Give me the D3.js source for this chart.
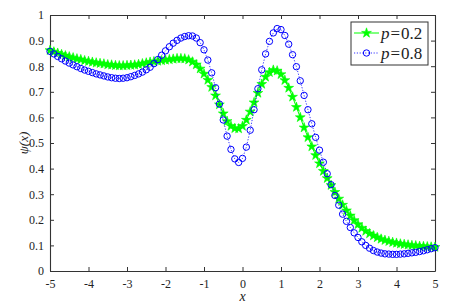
<!DOCTYPE html>
<html>
<head>
<meta charset="utf-8">
<script src="https://cdn.jsdelivr.net/npm/d3@7"></script>
<style>
  body { margin: 0; background: #fff; }
</style>
</head>
<body>
<div id="chart"></div>
<script>
// x grid shared by both series
var xs = [-5.0,-4.9,-4.8,-4.7,-4.6,-4.5,-4.4,-4.3,-4.2,-4.1,-4.0,-3.9,-3.8,-3.7,-3.6,-3.5,-3.4,-3.3,-3.2,-3.1,
  -3.0,-2.9,-2.8,-2.7,-2.6,-2.5,-2.4,-2.3,-2.2,-2.1,-2.0,-1.9,-1.8,-1.7,-1.6,-1.5,-1.4,-1.3,-1.2,-1.1,
  -1.0,-0.9,-0.8,-0.7,-0.6,-0.5,-0.4,-0.3,-0.2,-0.1,0.0,0.1,0.2,0.3,0.4,0.5,0.6,0.7,0.8,0.9,
  1.0,1.1,1.2,1.3,1.4,1.5,1.6,1.7,1.8,1.9,2.0,2.1,2.2,2.3,2.4,2.5,2.6,2.7,2.8,2.9,
  3.0,3.1,3.2,3.3,3.4,3.5,3.6,3.7,3.8,3.9,4.0,4.1,4.2,4.3,4.4,4.5,4.6,4.7,4.8,4.9,5.0];

// p = 0.2 (green stars)
var psiP02 = [0.862,0.856,0.851,0.846,0.841,0.837,0.833,0.829,0.826,0.822,
  0.819,0.816,0.813,0.811,0.809,0.806,0.805,0.803,0.802,0.802,
  0.803,0.804,0.805,0.807,0.810,0.813,0.816,0.818,0.820,0.822,
  0.824,0.826,0.828,0.830,0.830,0.829,0.825,0.817,0.806,0.790,
  0.770,0.746,0.718,0.685,0.650,0.615,0.585,0.566,0.557,0.556,
  0.566,0.590,0.622,0.658,0.695,0.730,0.758,0.776,0.785,0.782,
  0.768,0.745,0.715,0.680,0.640,0.600,0.560,0.522,0.486,0.452,
  0.420,0.390,0.362,0.335,0.308,0.282,0.258,0.236,0.216,0.198,
  0.182,0.168,0.156,0.146,0.138,0.131,0.125,0.120,0.116,0.112,
  0.109,0.106,0.104,0.102,0.100,0.099,0.097,0.096,0.095,0.094,0.093];

// p = 0.8 (blue circles)
var psiP08 = [0.858,0.848,0.838,0.829,0.820,0.812,0.805,0.798,0.791,0.785,
  0.780,0.775,0.770,0.766,0.762,0.758,0.755,0.753,0.752,0.753,
  0.755,0.759,0.764,0.770,0.777,0.786,0.796,0.810,0.826,0.843,
  0.860,0.876,0.890,0.901,0.910,0.916,0.919,0.918,0.910,0.892,
  0.864,0.824,0.774,0.716,0.652,0.590,0.527,0.475,0.438,0.424,
  0.440,0.484,0.550,0.630,0.712,0.786,0.848,0.897,0.930,0.947,
  0.943,0.920,0.886,0.845,0.798,0.743,0.686,0.630,0.575,0.522,
  0.472,0.425,0.380,0.337,0.295,0.257,0.222,0.194,0.170,0.149,
  0.131,0.114,0.100,0.089,0.080,0.074,0.070,0.067,0.066,0.065,
  0.065,0.066,0.067,0.069,0.071,0.073,0.076,0.079,0.083,0.087,0.091];

var xTicks = [-5,-4,-3,-2,-1,0,1,2,3,4,5];
var yTicks = [0,0.1,0.2,0.3,0.4,0.5,0.6,0.7,0.8,0.9,1];
var seriesNames = ["0.2", "0.8"];

var serif = "'Liberation Serif', 'Times New Roman', 'DejaVu Serif', serif";

var W = 472, H = 307;
var margin = {top: 15, right: 37, bottom: 36, left: 50},
    width = W - margin.left - margin.right,
    height = H - margin.top - margin.bottom;

var svg = d3.select("#chart").append("svg")
    .attr("width", W)
    .attr("height", H);

var g = svg.append("g")
    .attr("transform", "translate(" + margin.left + "," + margin.top + ")");

var x = d3.scaleLinear().domain([-5, 5]).range([0, width]);
var y = d3.scaleLinear().domain([0, 1]).range([height, 0]);

// axes: ticks pointing inward on all four sides
var axisColor = "#333";
function styleAxis(sel) {
    sel.attr("font-family", null);
    sel.select(".domain").attr("stroke", axisColor).attr("stroke-width", 1.1);
    sel.selectAll(".tick line").attr("stroke", axisColor);
    sel.selectAll(".tick text")
        .style("font-family", serif)
        .style("font-size", "12px")
        .attr("fill", "#222");
}

var xFmt = function(d) { return d < 0 ? "-" + Math.abs(d) : d; };

g.append("g")
    .attr("transform", "translate(0," + height + ")")
    .call(d3.axisBottom(x).tickValues(xTicks).tickSize(-4).tickSizeOuter(0).tickPadding(8).tickFormat(xFmt))
    .call(styleAxis);

g.append("g")
    .call(d3.axisTop(x).tickValues(xTicks).tickSize(-4).tickSizeOuter(0).tickFormat(""))
    .call(styleAxis);

g.append("g")
    .call(d3.axisLeft(y).tickValues(yTicks).tickSize(-4).tickSizeOuter(0).tickPadding(6)
        .tickFormat(function(d) { return d === 0 ? "0" : d === 1 ? "1" : d3.format(".1f")(d); }))
    .call(styleAxis);

g.append("g")
    .attr("transform", "translate(" + width + ",0)")
    .call(d3.axisRight(y).tickValues(yTicks).tickSize(-4).tickSizeOuter(0).tickFormat(""))
    .call(styleAxis);

// axis labels
g.append("text")
    .attr("x", x(0))
    .attr("y", height + 30)
    .attr("text-anchor", "middle")
    .style("font-family", serif)
    .style("font-size", "14px")
    .style("font-style", "italic")
    .attr("fill", "#222")
    .text("x");

g.append("text")
    .attr("transform", "translate(" + (-27) + "," + (y(0.5)) + ") rotate(-90)")
    .attr("text-anchor", "middle")
    .attr("dy", "0.35em")
    .style("font-family", serif)
    .style("font-size", "13px")
    .style("font-style", "italic")
    .attr("fill", "#222")
    .text("ψ(x)");

var data02 = xs.map(function(d, i) { return {x: d, v: psiP02[i]}; });
var data08 = xs.map(function(d, i) { return {x: d, v: psiP08[i]}; });

var line = d3.line()
    .x(function(d) { return x(d.x); })
    .y(function(d) { return y(d.v); });

var green = "#00ff00", blue = "#0000ff";
var star = d3.symbol().type(d3.symbolStar).size(30);

// p = 0.2 line + stars
g.append("path")
    .datum(data02)
    .attr("d", line)
    .attr("fill", "none")
    .attr("stroke", green)
    .attr("stroke-width", 1);

g.selectAll(".star")
    .data(data02)
    .enter().append("path")
    .attr("class", "star")
    .attr("d", star)
    .attr("transform", function(d) { return "translate(" + x(d.x) + "," + y(d.v) + ")"; })
    .attr("fill", green)
    .attr("stroke", green)
    .attr("stroke-width", 0.6);

// p = 0.8 dotted line + open circles
g.append("path")
    .datum(data08)
    .attr("d", line)
    .attr("fill", "none")
    .attr("stroke", blue)
    .attr("stroke-width", 0.8)
    .attr("stroke-dasharray", "1.2,1.6");

g.selectAll(".circ")
    .data(data08)
    .enter().append("circle")
    .attr("class", "circ")
    .attr("cx", function(d) { return x(d.x); })
    .attr("cy", function(d) { return y(d.v); })
    .attr("r", 3.2)
    .attr("fill", "none")
    .attr("stroke", blue)
    .attr("stroke-width", 1);

// legend
var lg = svg.append("g").attr("transform", "translate(351,22)");
lg.append("rect")
    .attr("width", 77)
    .attr("height", 43)
    .attr("fill", "#fff")
    .attr("stroke", "#333")
    .attr("stroke-width", 1);

seriesNames.forEach(function(name, i) {
    var row = lg.append("g").attr("transform", "translate(0," + (11 + i * 20) + ")");
    row.append("line")
        .attr("x1", 3).attr("x2", 28)
        .attr("stroke", i === 0 ? green : blue)
        .attr("stroke-width", i === 0 ? 1 : 0.8)
        .attr("stroke-dasharray", i === 0 ? null : "1.2,1.6");
    if (i === 0) {
        row.append("path")
            .attr("d", star)
            .attr("transform", "translate(15.5,0)")
            .attr("fill", green)
            .attr("stroke", green)
            .attr("stroke-width", 0.6);
    } else {
        row.append("circle")
            .attr("cx", 15.5).attr("r", 3.2)
            .attr("fill", "none")
            .attr("stroke", blue);
    }
    var t = row.append("text")
        .attr("x", 30)
        .attr("dy", "0.35em")
        .style("font-family", serif)
        .style("font-size", "17px")
        .attr("fill", "#222");
    t.append("tspan").style("font-style", "italic").text("p");
    t.append("tspan").attr("dx", 1).text("=");
    t.append("tspan").attr("dx", 1).text(name);
});
</script>
</body>
</html>
